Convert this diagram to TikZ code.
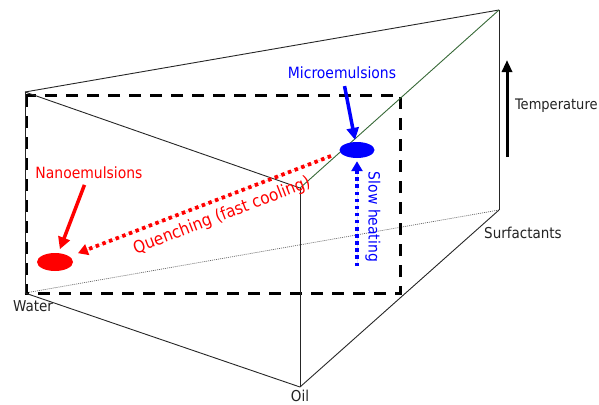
\documentclass[tikz,border=0pt]{standalone}
\usepackage{fontspec}
\setmainfont{DejaVu Sans Condensed}
\usetikzlibrary{arrows.meta,shapes.geometric}
\definecolor{edgegreen}{RGB}{55,105,55}
\definecolor{labelgray}{RGB}{35,35,35}
\definecolor{myred}{RGB}{255,0,0}
\definecolor{myblue}{RGB}{0,0,255}
\begin{document}
\begin{tikzpicture}[x=1pt,y=-1pt,
  edge/.style={draw=black!85, line width=0.9pt},
  greenedge/.style={draw=edgegreen, line width=0.9pt},
  hiddenedge/.style={draw=black!60, line width=0.7pt, dash pattern=on 1pt off 1pt},
  frame/.style={draw=black, line width=3pt, dash pattern=on 12pt off 9pt},
  lbl/.style={text=labelgray, font=\fontsize{15}{17}\selectfont, inner sep=1pt},
  redlbl/.style={text=myred, font=\fontsize{15.5}{17}\selectfont, inner sep=1pt},
  bluelbl/.style={text=myblue, font=\fontsize{15.5}{17}\selectfont, inner sep=1pt},
  blob/.style={ellipse, inner sep=0pt},
  fatarrow/.style={line width=3.5pt, -{Triangle[length=12pt,width=12pt]}},
  dotarrow/.style={line width=3.8pt, dash pattern=on 3.5pt off 3.6pt, -{Triangle[length=10pt,width=11pt]}}
]
\useasboundingbox (0,0) rectangle (599,404);

% prism corners
\coordinate (WT) at (25,92);
\coordinate (WB) at (25,293);
\coordinate (OT) at (300,188);
\coordinate (OB) at (300,387);
\coordinate (ST) at (499,10);
\coordinate (SB) at (499,210);

% hidden edge
\draw[hiddenedge] (WB) -- (SB);

% dashed frame
\draw[frame] (26,95) rectangle (400,293);

% visible edges
\draw[edge] (WT) -- (ST);
\draw[edge] (WT) -- (OT);
\draw[edge] (OT) -- (OB);
\draw[edge] (WB) -- (OB);
\draw[edge] (OB) -- (SB);
\draw[edge] (ST) -- (SB);
\draw[edge] (WT) -- (WB);
\draw[greenedge] (OT) -- (ST);

% corner labels
\node[lbl, anchor=north] (water) at (33,299) {Water};
\node[lbl, anchor=north] (oil) at (300,389) {Oil};
\node[lbl, anchor=west] (surf) at (483,233) {Surfactants};

% temperature
\coordinate (tbot) at (507,157);
\coordinate (ttop) at (507,60);
\draw[line width=3pt, -{Triangle[length=12pt,width=10pt]}] (tbot) -- (ttop);
\node[lbl, font=\fontsize{14.5}{16}\selectfont, anchor=west] (temp) at (514,106) {Temperature};

% blobs
\node[blob, fill=myblue, minimum width=35pt, minimum height=16pt] (micro) at (357,150) {};
\node[blob, fill=myred, minimum width=36pt, minimum height=18pt] (nano) at (55,262) {};

% labels
\node[bluelbl] (mtxt) at (342,73) {Microemulsions};
\node[redlbl] (ntxt) at (89,173) {Nanoemulsions};

% arrows to blobs
\draw[fatarrow, draw=myblue, fill=myblue, shorten <=6pt, shorten >=2pt] (mtxt) -- (micro);
\draw[fatarrow, draw=myred, fill=myred, shorten <=5pt, shorten >=4pt] (ntxt) -- (nano);

% quenching
\coordinate (qstart) at (331,156);
\draw[dotarrow, draw=myred, fill=myred, shorten >=9pt] (qstart) -- (nano);
\node[redlbl, font=\fontsize{17}{19}\selectfont, rotate=21] (qtxt) at (222,216) {Quenching (fast cooling)};

% slow heating
\coordinate (sh) at (357,266);
\draw[dotarrow, draw=myblue, fill=myblue, shorten >=3pt] (sh) -- (micro);
\node[bluelbl, rotate=-90] (stxt) at (373,217) {Slow heating};
\end{tikzpicture}
\end{document}
